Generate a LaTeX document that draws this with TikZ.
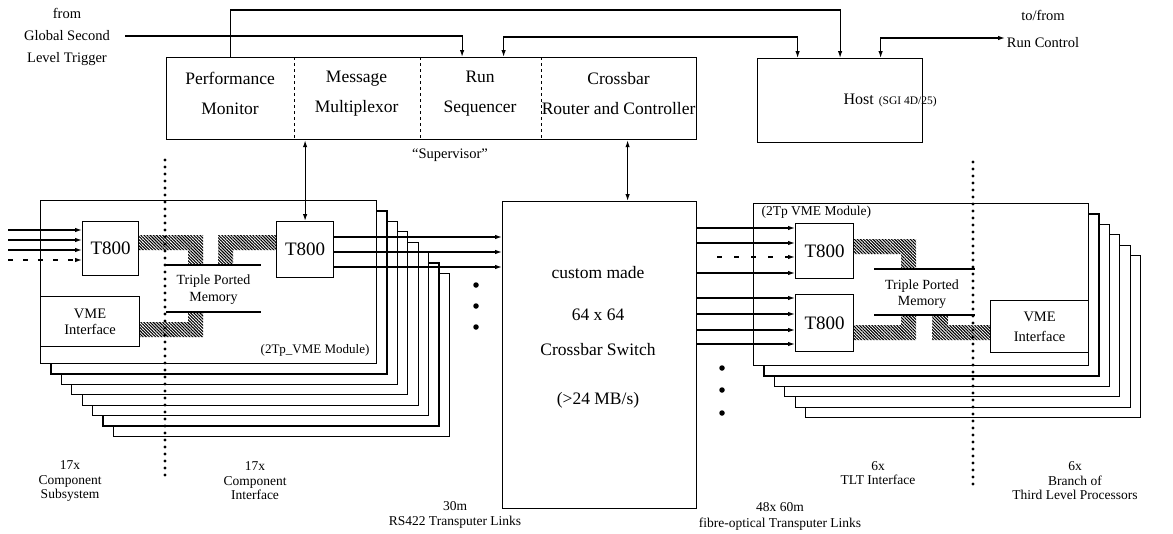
\documentclass[tikz,border=0pt]{standalone}
\usepackage{fontspec}
\setmainfont{Liberation Serif}
\usetikzlibrary{arrows.meta,patterns.meta,calc}
\begin{document}
\begin{tikzpicture}[x=1pt,y=-1pt,
  line width=1.2pt,
  >={Latex[length=7pt,width=4.5pt]},
  box/.style={draw,fill=white,inner sep=0pt,line width=1.2pt},
  cell/.style={inner sep=0pt},
  big/.style={font=\fontsize{17.5}{30}\selectfont,align=center,inner sep=0pt},
  mid/.style={font=\fontsize{14.5}{22}\selectfont,align=center,inner sep=0pt},
  small/.style={font=\fontsize{13.5}{14.5}\selectfont,align=center,inner sep=0pt},
  chip/.style={box,font=\fontsize{19}{22}\selectfont},
  bus/.style={pattern={Lines[angle=-45,distance=2.2pt,line width=1.1pt]},draw=none},
  mem/.style={line width=1.8pt},
  dotline/.style={line width=3.2pt,line cap=round,dash pattern=on 0pt off 7pt},
  bigdot/.style={circle,fill,inner sep=0pt,minimum size=5.5pt}
]
\useasboundingbox (0,0) rectangle (1173,533);

% ---------- supervisor ----------
\node[box,minimum width=530,minimum height=82,anchor=north west] (sup) at (166,57) {};
\node[cell,big,minimum width=127,minimum height=72,anchor=north west] (pm) at (166,57) {Performance\\Monitor};
\node[cell,big,minimum width=126,minimum height=72,anchor=north west] (mm) at (293,57) {Message\\Multiplexor};
\node[cell,big,minimum width=121,minimum height=72,anchor=north west] (rs) at (419,57) {Run\\Sequencer};
\node[cell,big,minimum width=156,minimum height=72,anchor=north west] (cr) at (540,57) {Crossbar\\Router and Controller};
\draw[dashed,line width=1pt] (pm.north east) -- (pm.north east |- sup.south);
\draw[dashed,line width=1pt] (mm.north east) -- (mm.north east |- sup.south);
\draw[dashed,line width=1pt] (rs.north east) -- (rs.north east |- sup.south);
\node[mid] (suplbl) at (450,155) {``Supervisor''};

% ---------- host ----------
\node[box,minimum width=165,minimum height=84,anchor=north west] (host) at (757,58) {};
\node[anchor=west,inner sep=0pt] (hostlbl) at (843,100) {\fontsize{16}{18}\selectfont Host\hspace{5pt}\fontsize{11.5}{12}\selectfont(SGI 4D/25)};

% ---------- outside texts ----------
\node[mid] (trig) at (67,37) {from\\Global Second\\Level Trigger};
\coordinate (trigout) at (125,36);
\node[font=\fontsize{14.5}{27}\selectfont,align=center,inner sep=0pt] (rc) at (1043,29) {to/from\\Run Control};
\coordinate (rcout) at (1005,38);

% ---------- top connectors ----------
\draw[->] (pm.north) -- ++(0,-47) -| (host.north);
\draw[->] (trigout) -| ($(rs.north)+(-18,0)$);
\draw[<->] ($(rs.north)+(23.5,0)$) -- ++(0,-20) -| ($(host.north)+(-42.5,0)$);
\draw[<->] ($(host.north)+(40.5,0)$) -- ++(0,-20) -- (rcout);

% ---------- switch ----------
\node[box,minimum width=194,minimum height=307,anchor=north west] (sw) at (502,201) {};
\node[big] (sw1) at (598,273) {custom made};
\node[big] (sw2) at (598,315) {64 x 64};
\node[big] (sw3) at (598,350) {Crossbar Switch};
\node[big] (sw4) at (598,400) {(>24 MB/s)};
\draw[<->] ($(cr.north |- sup.south)+(9,0)$) -- ($(cr.north |- sw.north)+(9,0)$);

% ---------- left boards ----------
\foreach \k in {7,6,...,0} {
  \node[box,minimum width=336,minimum height=163,anchor=north west] (lb\k) at ({40+10.4*\k},{200+10.4*\k}) {};
}
\node[chip,minimum width=56,minimum height=54,anchor=north west] (t800a) at (82,221) {T800};
\node[chip,minimum width=57,minimum height=56,anchor=north west] (t800b) at (276,221) {T800};
\node[box,font=\fontsize{14.5}{16}\selectfont,align=center,minimum width=99,minimum height=50,anchor=north west] (vmel) at (40,296) {VME\\Interface};
\node[align=center,inner sep=0pt,font=\fontsize{14}{17}\selectfont] (meml) at (213.5,289.5) {Triple Ported\\Memory};
\node[anchor=east,inner sep=0pt,font=\fontsize{13}{14}\selectfont] (modl) at (370,350) {(2Tp\_VME Module)};
\draw[mem] (166,265) -- (261,265);
\draw[mem] (166,312) -- (261,312);
\fill[bus] (138,235) -- (203,235) -- (203,265) -- (188,265) -- (188,250) -- (138,250) -- cycle;
\fill[bus] (276,235) -- (218,235) -- (218,265) -- (233,265) -- (233,250) -- (276,250) -- cycle;
\fill[bus] (139,322) -- (188,322) -- (188,312) -- (203,312) -- (203,337) -- (139,337) -- cycle;

% inputs of left T800
\coordinate (in1) at (8,230);
\coordinate (in2) at (8,240);
\coordinate (in3) at (8,250);
\coordinate (in4) at (8,260);
\draw[->] (in1) -- (in1 -| t800a.west);
\draw[->] (in2) -- (in2 -| t800a.west);
\draw[->] (in3) -- (in3 -| t800a.west);
\draw[->,dash pattern=on 5pt off 10pt] (in4) -- (in4 -| t800a.west);

% links to switch
\coordinate (l1) at ($(t800b.north east)+(0,16)$);
\coordinate (l2) at ($(t800b.north east)+(0,31)$);
\coordinate (l3) at ($(t800b.north east)+(0,46)$);
\draw[->] (l1) -- (l1 -| sw.west);
\draw[->] (l2) -- (l2 -| sw.west);
\draw[->] (l3) -- (l3 -| sw.west);
\draw[<->] (t800b.north |- sup.south) -- (t800b.north);

% ---------- right boards ----------
\foreach \k in {5,4,...,0} {
  \node[box,minimum width=335,minimum height=162,anchor=north west] (rb\k) at ({753+10.4*\k},{203+10.4*\k}) {};
}
\node[chip,minimum width=58,minimum height=55,anchor=north west] (t800c) at (795,223) {T800};
\node[chip,minimum width=58,minimum height=57,anchor=north west] (t800d) at (795,294) {T800};
\node[box,font=\fontsize{14.5}{20}\selectfont,align=center,minimum width=98,minimum height=52,anchor=north west] (vmer) at (990,300) {VME\\Interface};
\node[align=center,inner sep=0pt,font=\fontsize{14}{16}\selectfont] (memr) at (922,294) {Triple Ported\\Memory};
\node[anchor=west,inner sep=0pt,font=\fontsize{13.5}{14}\selectfont] (modr) at (761,212) {(2Tp VME Module)};
\draw[mem] (874,269) -- (975,269);
\draw[mem] (874,315) -- (975,315);
\fill[bus] (853,239) -- (916,239) -- (916,269) -- (901,269) -- (901,254) -- (853,254) -- cycle;
\fill[bus] (853,325) -- (901,325) -- (901,315) -- (916,315) -- (916,340) -- (853,340) -- cycle;
\fill[bus] (990,325) -- (948,325) -- (948,315) -- (932,315) -- (932,340) -- (990,340) -- cycle;

\coordinate (c1) at ($(t800c.north west)+(0,5)$);
\coordinate (c2) at ($(t800c.north west)+(0,20)$);
\coordinate (c3) at ($(t800c.north west)+(0,34)$);
\coordinate (c4) at ($(t800c.north west)+(0,50)$);
\coordinate (c5) at ($(t800d.north west)+(0,4)$);
\coordinate (c6) at ($(t800d.north west)+(0,20)$);
\coordinate (c7) at ($(t800d.north west)+(0,36)$);
\coordinate (c8) at ($(t800d.north west)+(0,50)$);
\draw[->] (c1 -| sw.east) -- (c1);
\draw[->] (c2 -| sw.east) -- (c2);
\draw[->,dash pattern=on 5pt off 12pt] ($(c3 -| sw.east)+(20,0)$) -- (c3);
\draw[->] (c4 -| sw.east) -- (c4);
\draw[->] (c5 -| sw.east) -- (c5);
\draw[->] (c6 -| sw.east) -- (c6);
\draw[->] (c7 -| sw.east) -- (c7);
\draw[->] (c8 -| sw.east) -- (c8);

% ---------- dots ----------
\node[bigdot] (d1) at (476,285) {};
\node[bigdot] (d2) at (476,306) {};
\node[bigdot] (d3) at (476,327) {};
\node[bigdot] (d4) at (722,368) {};
\node[bigdot] (d5) at (722,390) {};
\node[bigdot] (d6) at (722,413) {};

\draw[dotline] (165,160) -- (165,482);
\draw[dotline] (973,162) -- (973,487);

% ---------- bottom labels ----------
\node[small] (b1) at (70,481) {17x\\Component\\Subsystem};
\node[small] (b2) at (255,481) {17x\\Component\\Interface};
\node[small] (b3) at (455,515) {30m\\RS422 Transputer Links};
\node[small,font=\fontsize{13.5}{16}\selectfont] (b4) at (780,516) {48x 60m\\fibre-optical Transputer Links};
\node[small] (b5) at (878,473) {6x\\TLT Interface};
\node[small] (b6) at (1075,481) {6x\\Branch of\\Third Level Processors};
\end{tikzpicture}
\end{document}
